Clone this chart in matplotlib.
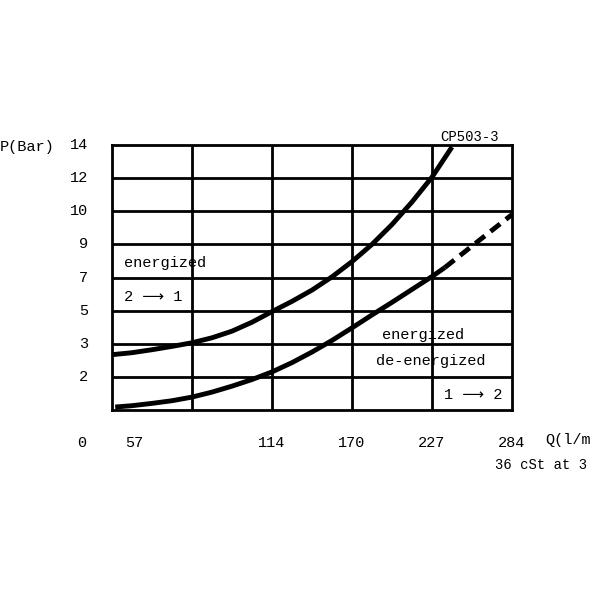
import matplotlib
matplotlib.use("Agg")
import matplotlib.pyplot as plt

y_labels = ["2", "3", "5", "7", "9", "10", "12", "14"]
x_labels = ["57", "114", "170", "227", "284"]

# curves in grid units (x: columns 0..5, y: rows 0..8)
upper_x = [0.0, 0.25, 0.5, 0.75, 1.0, 1.25, 1.5, 1.75, 2.0, 2.25, 2.5, 2.75, 3.0, 3.25, 3.5, 3.75, 4.0, 4.25]
upper_y = [1.67, 1.73, 1.82, 1.92, 2.03, 2.18, 2.38, 2.65, 2.97, 3.28, 3.62, 4.02, 4.48, 5.0, 5.6, 6.28, 7.03, 7.94]
lower_x = [0.04, 0.25, 0.5, 0.75, 1.0, 1.25, 1.5, 1.75, 2.0, 2.25, 2.5, 2.75, 3.0, 3.25, 3.5, 3.75, 4.0, 4.16]
lower_y = [0.09, 0.13, 0.2, 0.28, 0.39, 0.54, 0.72, 0.92, 1.15, 1.43, 1.75, 2.1, 2.48, 2.87, 3.25, 3.64, 4.03, 4.3]
dash_x = [4.16, 4.5, 5.0]
dash_y = [4.3, 4.95, 5.9]

fig = plt.figure(figsize=(6, 6), dpi=100)
ax = fig.add_axes([112/600, 190/600, 400/600, 265/600])
ax.set_xlim(0, 5)
ax.set_ylim(0, 8)
for i in range(1, 5):
    ax.axvline(i, color="black", lw=2)
for j in range(1, 8):
    ax.axhline(j, color="black", lw=2)
for s in ax.spines.values():
    s.set_linewidth(2)
ax.set_xticks([]); ax.set_yticks([])
ax.plot(upper_x, upper_y, color="black", lw=3.5, solid_capstyle="butt", clip_on=False)
ax.plot(lower_x, lower_y, color="black", lw=3.5, solid_capstyle="butt")
ax.plot(dash_x, dash_y, color="black", lw=3.5, ls=(0, (2.5, 1.5)))

mono = {"family": "Liberation Mono", "fontsize": 11}
for j, lab in enumerate(y_labels):
    ax.text(-0.3, j + 1, lab, ha="right", va="center", **mono)
fig.text(0/600, 1 - 147/600, "P(Bar)", ha="left", va="center", **mono)
xpos = [0.28, 2.0, 3.0, 4.0, 5.0]
for xp, lab in zip(xpos, x_labels):
    ax.text(xp, -1.0, lab, ha="center", va="center", **mono)
ax.text(-0.38, -1.0, "0", ha="center", va="center", **mono)
fig.text(545/600, 1 - 440/600, "Q(l/m", ha="left", va="center", **mono)
fig.text(495/600, 1 - 465/600, "36 cSt at 3", ha="left", va="center", fontsize=10, family="Liberation Mono")
fig.text(440/600, 1 - 137/600, "CP503-3", ha="left", va="center", fontsize=10, family="Liberation Mono")
ax.text(0.15, 4.45, "energized", ha="left", va="center", **mono)
ax.text(0.15, 3.42, "2 ⟶ 1", ha="left", va="center", family=["Liberation Mono", "DejaVu Sans"], fontsize=11)
ax.text(3.37, 2.27, "energized", ha="left", va="center", **mono)
ax.text(3.3, 1.48, "de-energized", ha="left", va="center", **mono)
ax.text(4.15, 0.45, "1 ⟶ 2", ha="left", va="center", family=["Liberation Mono", "DejaVu Sans"], fontsize=11)
fig.savefig("out.png")
